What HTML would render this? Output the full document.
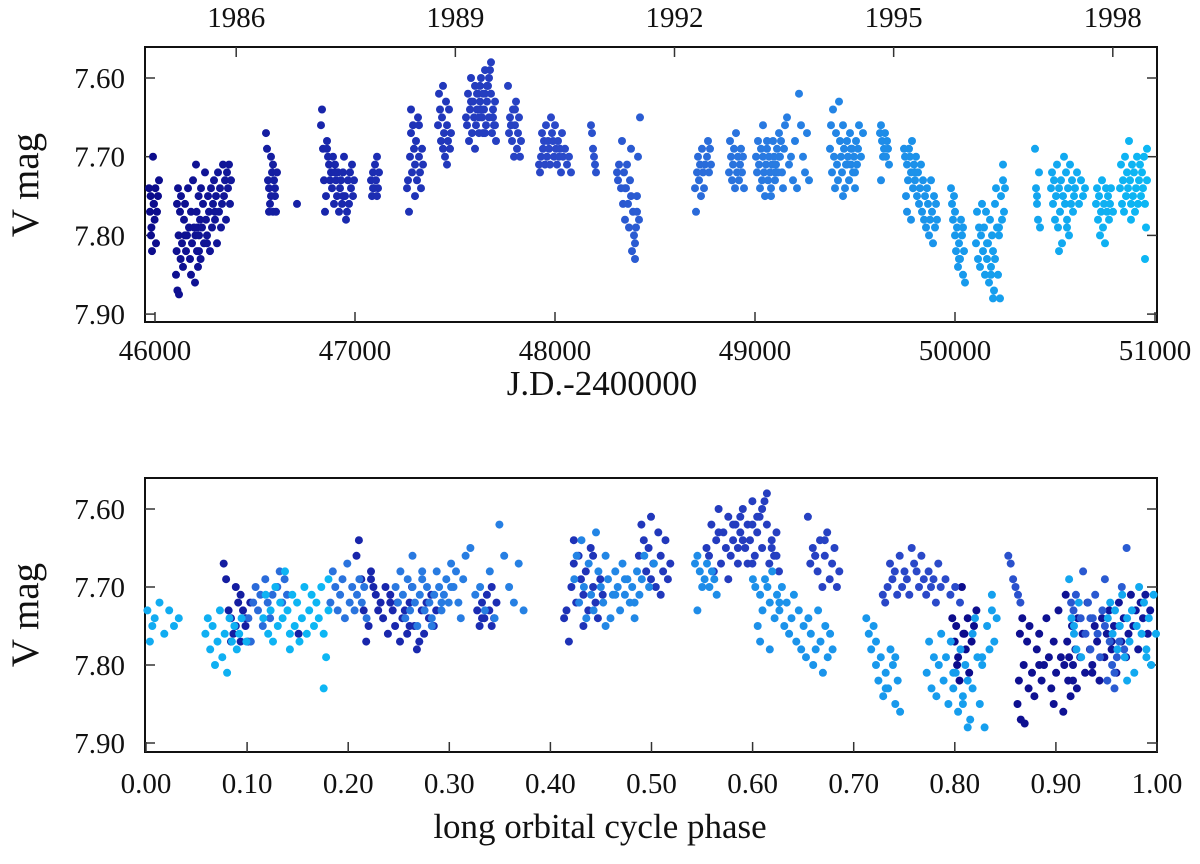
<!DOCTYPE html>
<html><head><meta charset="utf-8"><style>
html,body{margin:0;padding:0;background:#fff;}
svg text{font-family:"Liberation Serif",serif;fill:#111;}
</style></head><body>
<svg id="chart" width="1200" height="859" viewBox="0 0 1200 859" xmlns="http://www.w3.org/2000/svg">
<g id="topPanel"></g>
<g id="botPanel"></g>
</svg>
<script>
const xTicksJD=[46000,47000,48000,49000,50000,51000];
const yearTicks=[1986,1989,1992,1995,1998];
const magTicks=[7.60,7.70,7.80,7.90];
const phaseTicks=[0,0.1,0.2,0.3,0.4,0.5,0.6,0.7,0.8,0.9,1.0];
const period=2094, epoch=46394;
const seasonJD=[
[45970,45975,45978,45982,45985,45990,45993,45998,46002,46005,46010,46015,46020,45980,45995],
[46105,46108,46110,46112,46115,46118,46120,46125,46128,46130,46135,46140,46145,46150,46155,46160,46165,46170,46175,46180,46185,46190,46195,46200,46202,46205,46208,46210,46212,46215,46218,46220,46225,46228,46230,46235,46240,46245,46250,46255,46260,46265,46270,46275,46280,46285,46290,46295,46300,46305,46310,46315,46320,46325,46330,46335,46340,46345,46350,46355,46360,46365,46370,46375,46380,46150,46180,46220,46260,46300],
[46555,46560,46565,46570,46575,46580,46585,46590,46595,46600,46605,46610,46570,46590,46600,46580,46710],
[46830,46835,46840,46845,46850,46855,46860,46865,46870,46875,46880,46885,46890,46895,46900,46905,46910,46915,46920,46925,46930,46935,46940,46945,46950,46955,46960,46965,46970,46975,46980,46985,46990,46995,46860,46900,46940],
[47080,47085,47090,47095,47100,47105,47110,47115,47120,47090,47110],
[47260,47265,47270,47275,47280,47285,47290,47295,47300,47305,47310,47315,47320,47325,47330,47335,47340,47280,47300,47320],
[47415,47420,47425,47430,47435,47440,47445,47450,47455,47460,47465,47470,47475,47480,47440,47460],
[47555,47560,47565,47570,47575,47580,47585,47590,47595,47600,47605,47610,47615,47620,47625,47630,47635,47640,47645,47650,47655,47660,47665,47670,47675,47680,47685,47690,47695,47700,47705,47600,47620,47640,47660,47680,47610,47630,47650,47670,47690,47580,47700,47650,47625],
[47765,47770,47775,47780,47785,47790,47795,47800,47805,47810,47815,47820,47825,47830,47780,47800],
[47920,47925,47930,47935,47940,47945,47950,47955,47960,47965,47970,47975,47980,47985,47990,47995,48000,48005,48010,48015,48020,48025,48030,48035,48040,48050,48060,48070,48080],
[48180,48185,48190,48195,48200,48205],
[48310,48315,48320,48330,48335,48340,48345,48350,48355,48360,48365,48370,48375,48380,48385,48390,48395,48400,48405,48410,48415,48420,48425,48350,48380,48400,48410],
[48700,48705,48710,48715,48720,48725,48730,48735,48740,48745,48750,48760,48765,48770,48775,48780],
[48870,48875,48880,48885,48890,48895,48900,48905,48910,48915,48920,48925,48930,48935,48940,48945],
[49005,49010,49015,49020,49025,49030,49035,49040,49045,49050,49055,49060,49065,49070,49075,49080,49085,49090,49095,49100,49105,49110,49115,49120,49125,49130,49135,49140,49145,49150,49160,49170,49180,49190,49200,49210,49220,49230,49240,49250,49260,49270,49040,49080,49120,49100,49060],
[49375,49380,49385,49390,49395,49400,49405,49410,49415,49420,49425,49430,49435,49440,49445,49450,49455,49460,49465,49470,49475,49480,49485,49490,49495,49500,49505,49510,49515,49520,49530,49540,49440,49460,49480,49500],
[49625,49630,49635,49640,49645,49650,49655,49660,49665,49670,49630],
[49745,49750,49755,49760,49765,49770,49775,49780,49785,49790,49795,49800,49805,49810,49815,49820,49825,49830,49835,49840,49845,49850,49855,49860,49865,49870,49875,49880,49885,49890,49895,49900,49905,49910,49760,49780,49800],
[49980,49985,49990,49995,50000,50005,50010,50015,50020,50025,50030,50035,50040,50045,50050,50000,50020,50040],
[50105,50110,50115,50120,50125,50130,50135,50140,50145,50150,50155,50160,50165,50170,50175,50180,50185,50190,50195,50200,50205,50210,50215,50220,50225,50230,50235,50240,50245,50250,50160,50180,50200,50220,50190,50240],
[50400,50405,50410,50415,50420,50425,50410],
[50480,50485,50490,50495,50500,50505,50510,50515,50520,50525,50530,50535,50540,50545,50550,50555,50560,50565,50570,50575,50580,50585,50590,50595,50600,50610,50620,50630,50640,50650,50520,50560],
[50705,50710,50715,50720,50725,50730,50735,50740,50745,50750,50755,50760,50765,50770,50775,50780,50790],
[50825,50830,50835,50840,50845,50850,50855,50860,50865,50870,50875,50880,50885,50890,50895,50900,50905,50910,50915,50920,50925,50930,50935,50940,50945,50950,50955,50960,50880,50950,50960]
];
const seasonMag=[
[7.74,7.77,7.75,7.79,7.82,7.70,7.76,7.78,7.74,7.81,7.77,7.75,7.73,7.80,7.76],
[7.85,7.82,7.76,7.87,7.74,7.80,7.875,7.77,7.83,7.75,7.81,7.84,7.78,7.76,7.82,7.80,7.74,7.79,7.83,7.77,7.81,7.73,7.79,7.86,7.80,7.71,7.77,7.82,7.79,7.84,7.75,7.80,7.78,7.83,7.74,7.79,7.76,7.81,7.72,7.78,7.80,7.75,7.77,7.82,7.74,7.79,7.76,7.73,7.78,7.75,7.81,7.72,7.77,7.74,7.79,7.76,7.71,7.75,7.73,7.78,7.72,7.74,7.71,7.76,7.73,7.80,7.85,7.82,7.81,7.77],
[7.67,7.69,7.73,7.74,7.76,7.75,7.72,7.71,7.73,7.75,7.77,7.72,7.77,7.77,7.74,7.70,7.76],
[7.66,7.64,7.69,7.73,7.77,7.75,7.69,7.70,7.71,7.73,7.72,7.74,7.70,7.76,7.71,7.73,7.75,7.72,7.77,7.74,7.73,7.76,7.72,7.70,7.75,7.78,7.77,7.73,7.76,7.72,7.74,7.71,7.75,7.73,7.68,7.72,7.75],
[7.73,7.75,7.72,7.74,7.71,7.73,7.75,7.74,7.72,7.74,7.70],
[7.74,7.73,7.77,7.70,7.67,7.72,7.66,7.69,7.71,7.68,7.73,7.65,7.70,7.72,7.74,7.69,7.71,7.64,7.75,7.66],
[7.66,7.62,7.64,7.68,7.65,7.69,7.67,7.70,7.63,7.66,7.68,7.64,7.69,7.67,7.61,7.71],
[7.65,7.66,7.62,7.68,7.64,7.60,7.67,7.63,7.65,7.61,7.66,7.64,7.62,7.67,7.63,7.60,7.65,7.62,7.64,7.59,7.66,7.63,7.61,7.65,7.59,7.62,7.67,7.64,7.66,7.63,7.68,7.69,7.65,7.67,7.61,7.58,7.62,7.64,7.62,7.60,7.65,7.63,7.66,7.67,7.61],
[7.61,7.67,7.65,7.66,7.68,7.64,7.70,7.66,7.63,7.69,7.67,7.65,7.70,7.68,7.66,7.64],
[7.71,7.72,7.70,7.67,7.69,7.68,7.71,7.66,7.70,7.68,7.69,7.71,7.65,7.67,7.68,7.70,7.66,7.69,7.71,7.68,7.70,7.69,7.72,7.67,7.70,7.69,7.71,7.70,7.72],
[7.66,7.67,7.69,7.70,7.71,7.72],
[7.72,7.73,7.71,7.74,7.68,7.76,7.72,7.78,7.74,7.71,7.76,7.79,7.73,7.75,7.82,7.77,7.80,7.83,7.79,7.75,7.70,7.78,7.65,7.74,7.69,7.81,7.77],
[7.74,7.77,7.72,7.70,7.73,7.71,7.75,7.69,7.72,7.74,7.71,7.70,7.68,7.72,7.69,7.71],
[7.72,7.68,7.70,7.73,7.71,7.69,7.74,7.67,7.72,7.70,7.73,7.71,7.69,7.72,7.70,7.74],
[7.70,7.72,7.68,7.71,7.74,7.69,7.73,7.70,7.72,7.75,7.71,7.69,7.73,7.70,7.72,7.74,7.71,7.68,7.70,7.73,7.71,7.69,7.72,7.67,7.70,7.68,7.72,7.74,7.69,7.66,7.65,7.71,7.70,7.73,7.68,7.74,7.62,7.66,7.70,7.72,7.67,7.73,7.66,7.75,7.70,7.72,7.68],
[7.69,7.66,7.72,7.64,7.70,7.74,7.67,7.71,7.73,7.63,7.68,7.70,7.72,7.66,7.69,7.74,7.71,7.68,7.70,7.73,7.67,7.71,7.69,7.72,7.70,7.74,7.68,7.71,7.69,7.66,7.70,7.67,7.75,7.71,7.69,7.72],
[7.67,7.66,7.68,7.70,7.69,7.67,7.70,7.68,7.69,7.71,7.73],
[7.69,7.70,7.75,7.71,7.73,7.69,7.70,7.72,7.68,7.74,7.71,7.73,7.70,7.75,7.72,7.76,7.74,7.71,7.77,7.73,7.78,7.75,7.79,7.74,7.76,7.80,7.78,7.73,7.77,7.81,7.75,7.79,7.76,7.78,7.77,7.78,7.72],
[7.74,7.76,7.78,7.75,7.80,7.82,7.79,7.84,7.81,7.83,7.78,7.80,7.85,7.82,7.86,7.77,7.83,7.79],
[7.81,7.77,7.83,7.79,7.84,7.80,7.76,7.82,7.79,7.85,7.77,7.83,7.81,7.86,7.78,7.84,7.80,7.82,7.87,7.76,7.74,7.79,7.85,7.80,7.88,7.75,7.78,7.73,7.77,7.74,7.81,7.85,7.83,7.79,7.88,7.71],
[7.69,7.74,7.76,7.78,7.72,7.79,7.75],
[7.74,7.72,7.76,7.73,7.78,7.75,7.71,7.79,7.74,7.77,7.73,7.81,7.75,7.70,7.76,7.72,7.78,7.74,7.80,7.71,7.76,7.73,7.77,7.75,7.74,7.72,7.76,7.73,7.75,7.74,7.82,7.79],
[7.76,7.74,7.78,7.75,7.80,7.77,7.73,7.79,7.76,7.81,7.74,7.77,7.75,7.78,7.76,7.74,7.77],
[7.74,7.71,7.76,7.73,7.77,7.70,7.75,7.72,7.74,7.68,7.73,7.76,7.71,7.75,7.72,7.77,7.74,7.70,7.76,7.73,7.71,7.75,7.72,7.74,7.70,7.83,7.79,7.69,7.78,7.76,7.73]
];
const NS="http://www.w3.org/2000/svg";
function mk(parent,tag,attrs){const e=document.createElementNS(NS,tag);for(const k in attrs)e.setAttribute(k,attrs[k]);parent.appendChild(e);return e;}
const rampJD=[46000,47000,48000,49000,50000,51000];
const rampC=[[12,12,140],[26,42,176],[42,72,200],[42,120,224],[24,152,236],[12,184,244]];
function colorFor(j){let i=0;while(i<rampJD.length-2&&j>rampJD[i+1])i++;let t=(j-rampJD[i])/(rampJD[i+1]-rampJD[i]);t=Math.max(0,Math.min(1,t));const a=rampC[i],b=rampC[i+1];return 'rgb('+a.map((v,k)=>Math.round(v+(b[k]-v)*t)).join(',')+')';}
const topP={l:145,r:1157,t:47,b:322};
const botP={l:145,r:1157,t:478,b:752};
const xJD=j=>155+(j-46000)*0.2;
const yTop=m=>78+(m-7.60)*787;
const xPh=p=>146+p*1011;
const yBot=m=>509+(m-7.60)*780;
const topG=document.getElementById('topPanel'), botG=document.getElementById('botPanel');
function frame(g,P,name){const r=mk(g,'rect',{x:P.l,y:P.t,width:P.r-P.l,height:P.b-P.t,fill:'none',stroke:'#111','stroke-width':2});}
frame(topG,topP,'top-plot-frame');frame(botG,botP,'bottom-plot-frame');
function txt(g,x,y,s,size,anchor,name,extra){const t=mk(g,'text',Object.assign({x:x,y:y,'font-size':size,'text-anchor':anchor},extra||{}));t.textContent=s;return t;}
xTicksJD.forEach(j=>{const x=xJD(j);mk(topG,'line',{x1:x,x2:x,y1:topP.b,y2:topP.b-10,stroke:'#333','stroke-width':1.5});txt(topG,x,360,String(j),29,'middle','x-tick-label');});
yearTicks.forEach(y=>{const x=xJD(46406+(y-1986)*365.25);mk(topG,'line',{x1:x,x2:x,y1:topP.t,y2:topP.t+10,stroke:'#333','stroke-width':1.5});txt(topG,x,27,String(y),29,'middle','year-tick-label');});
magTicks.forEach(m=>{const y=yTop(m);mk(topG,'line',{x1:topP.l,x2:topP.l+10,y1:y,y2:y,stroke:'#333','stroke-width':1.5});mk(topG,'line',{x1:topP.r,x2:topP.r-10,y1:y,y2:y,stroke:'#333','stroke-width':1.5});txt(topG,125,y+10,m.toFixed(2),29,'end','y-tick-label');});
phaseTicks.forEach(p=>{const x=xPh(p);mk(botG,'line',{x1:x,x2:x,y1:botP.b,y2:botP.b-10,stroke:'#333','stroke-width':1.5});txt(botG,x,793,p.toFixed(2),29,'middle','x-tick-label');});
magTicks.forEach(m=>{const y=yBot(m);mk(botG,'line',{x1:botP.l,x2:botP.l+10,y1:y,y2:y,stroke:'#333','stroke-width':1.5});mk(botG,'line',{x1:botP.r,x2:botP.r-10,y1:y,y2:y,stroke:'#333','stroke-width':1.5});txt(botG,125,y+10,m.toFixed(2),29,'end','y-tick-label');});
txt(topG,602,395,'J.D.-2400000',35,'middle','x-axis-title');
txt(botG,600,838,'long orbital cycle phase',35,'middle','x-axis-title');
txt(topG,0,0,'V mag',39,'middle','y-axis-title',{transform:'translate(38,185) rotate(-90)'});
txt(botG,0,0,'V mag',39,'middle','y-axis-title',{transform:'translate(38,615) rotate(-90)'});
seasonJD.forEach((js,si)=>{const ms=seasonMag[si];const n=Math.min(js.length,ms.length);
 for(let i=0;i<n;i++){const j=js[i],m=ms[i],c=colorFor(j);
  const a=mk(topG,'circle',{cx:xJD(j).toFixed(1),cy:yTop(m).toFixed(1),r:4,fill:c});
  
  
  let ph=((j-epoch)/period)%1;if(ph<0)ph+=1;
  const b=mk(botG,'circle',{cx:xPh(ph).toFixed(1),cy:yBot(m).toFixed(1),r:4,fill:c});
  
  
 }});
</script>
</body></html>
